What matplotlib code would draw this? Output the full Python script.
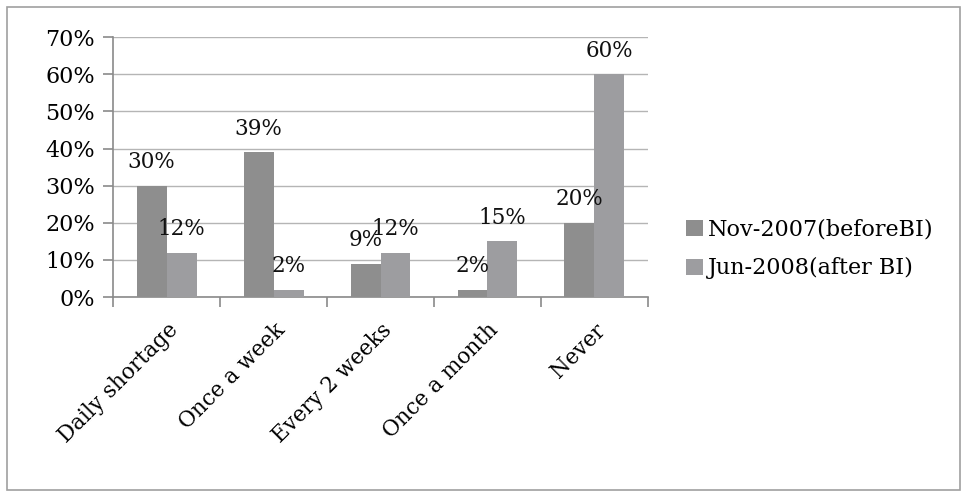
import matplotlib.pyplot as plt
import numpy as np

categories = ["Daily shortage", "Once a week", "Every 2 weeks", "Once a month", "Never"]
nov_2007 = [30, 39, 9, 2, 20]
jun_2008 = [12, 2, 12, 15, 60]
series_names = ["Nov-2007(beforeBI)", "Jun-2008(after BI)"]

plt.rcParams['font.family'] = ['DejaVu Serif']

fig = plt.figure(figsize=(9.67, 4.96), dpi=100)
fig.patches.append(plt.Rectangle((0.007, 0.012), 0.986, 0.974, transform=fig.transFigure,
                                 fill=False, edgecolor='#a0a0a0', linewidth=1.2))
ax = fig.add_axes([0.117, 0.401, 0.553, 0.524])

x = np.arange(len(categories))
w = 0.28
b1 = ax.bar(x - w / 2, nov_2007, w, color='#8e8e8e', label=series_names[0], zorder=3)
b2 = ax.bar(x + w / 2, jun_2008, w, color='#9d9da0', label=series_names[1], zorder=3)

for bars, vals in ((b1, nov_2007), (b2, jun_2008)):
    for rect, v in zip(bars, vals):
        ax.annotate(f"{v}%", (rect.get_x() + rect.get_width() / 2, v),
                    xytext=(0, 9), textcoords='offset points',
                    ha='center', va='bottom', fontsize=15.5, color='#111111', zorder=4)

ax.set_ylim(0, 70)
ax.set_xlim(-0.5, len(categories) - 0.5)
ax.set_yticks(range(0, 71, 10))
ax.set_yticklabels([f"{t}%" for t in range(0, 71, 10)], fontsize=16)
ax.yaxis.grid(True, color='#b5b5b5', linewidth=1.0, zorder=0)

ax.set_xticks(np.arange(-0.5, len(categories), 1.0), minor=False)
ax.set_xticklabels([])
ax.set_xticks(x, minor=True)
ax.set_xticklabels(categories, minor=True, rotation=45, ha='right',
                   rotation_mode='anchor', fontsize=15.5)
ax.tick_params(axis='x', which='minor', length=0, pad=16)
ax.tick_params(axis='x', which='major', length=7, color='#8a8a8a', width=1.2)
ax.tick_params(axis='y', length=7, color='#8a8a8a', width=1.2, pad=6)

for s in ('top', 'right'):
    ax.spines[s].set_visible(False)
for s in ('left', 'bottom'):
    ax.spines[s].set_color('#8a8a8a')
    ax.spines[s].set_linewidth(1.2)

ax.legend(loc='center left', bbox_to_anchor=(1.071, 0.185), frameon=False, fontsize=16,
          borderpad=0, borderaxespad=0, handlelength=0.75, handleheight=0.75,
          handletextpad=0.25, labelspacing=0.75)

fig.savefig("out.png", dpi=100)
